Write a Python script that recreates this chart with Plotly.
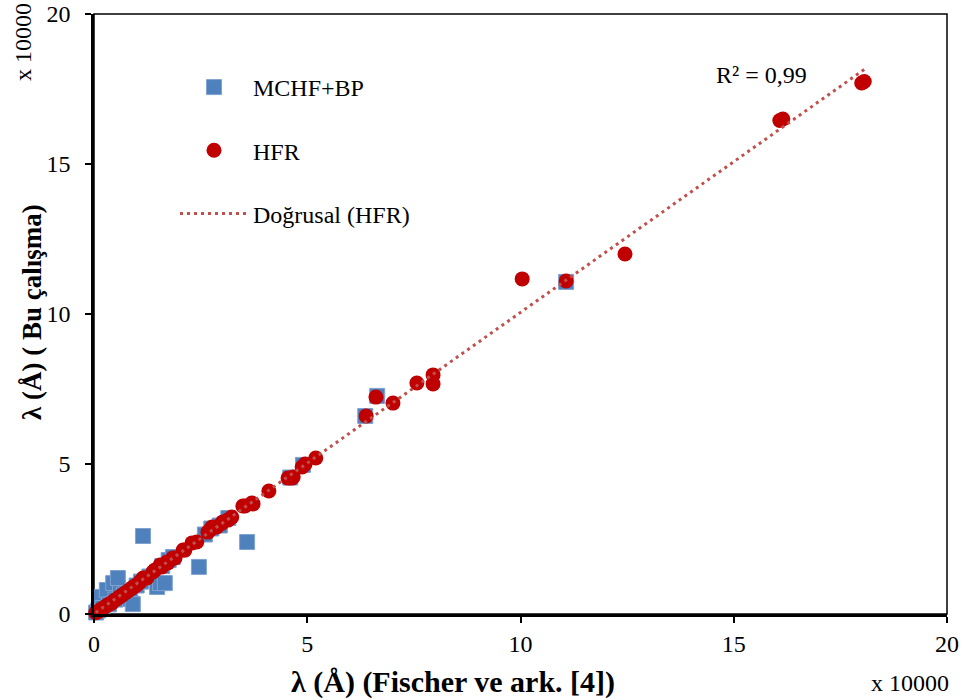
import numpy as np
import plotly.graph_objects as go

# values in units of 10000 Å
hfr_x = [0.04, 0.08, 0.13, 0.18, 0.24, 0.30, 0.36, 0.42, 0.48, 0.54, 0.60, 0.66, 0.72,
         0.78, 0.84, 0.90, 0.96, 1.02, 1.08, 1.15, 1.24, 1.38, 1.43, 1.55, 1.59, 1.71,
         1.73, 1.85, 1.90, 2.09, 2.13, 2.30, 2.41, 2.67, 2.72, 2.77, 2.88, 3.00, 3.02,
         3.14, 3.23, 3.49, 3.54, 3.70, 3.73, 4.10, 4.55, 4.64, 4.67, 4.88, 4.95, 5.20,
         6.38, 6.61, 7.01, 7.57, 7.95, 7.95, 10.04, 11.07, 12.45, 16.08, 16.15, 18.00, 18.06]
hfr_y = [0.04, 0.07, 0.12, 0.17, 0.22, 0.28, 0.33, 0.37, 0.45, 0.51, 0.57, 0.63, 0.69,
         0.75, 0.81, 0.88, 0.93, 0.99, 1.07, 1.20, 1.20, 1.40, 1.47, 1.63, 1.57, 1.73,
         1.70, 1.87, 1.87, 2.13, 2.13, 2.37, 2.40, 2.73, 2.80, 2.90, 2.90, 3.03, 3.07,
         3.13, 3.23, 3.60, 3.60, 3.70, 3.67, 4.10, 4.53, 4.53, 4.57, 4.90, 5.00, 5.20,
         6.60, 7.23, 7.03, 7.70, 7.97, 7.67, 11.17, 11.10, 12.00, 16.45, 16.50, 17.70, 17.75]

mchf_x = [0.05, 0.10, 0.16, 0.20, 0.30, 0.35, 0.45, 0.50, 0.56, 0.61, 0.70, 0.85, 0.91,
          1.00, 1.10, 1.15, 1.30, 1.48, 1.55, 1.66, 1.60, 1.75, 1.85, 2.46, 2.60, 2.75,
          2.95, 3.15, 3.59, 4.60, 4.90, 6.36, 6.64, 11.07]
mchf_y = [0.05, 0.12, 0.57, 0.20, 0.80, 0.32, 1.03, 0.48, 1.20, 0.70, 0.65, 0.50, 0.33,
          0.95, 1.08, 2.60, 1.25, 0.90, 1.03, 1.03, 1.60, 1.80, 1.90, 1.57, 2.65, 2.85,
          2.95, 3.20, 2.40, 4.55, 4.97, 6.60, 7.27, 11.07]

axis_ticks = [0, 5, 10, 15, 20]
series_names = ["MCHF+BP", "HFR", "Doğrusal (HFR)"]
r2_label = "R² = 0,99"
x_title = "λ (Å) (Fischer ve ark. [4])"
y_title = "λ (Å) ( Bu çalışma)"
scale_label = "x 10000"

FONT = "Liberation Serif"
FS = 24

# linear trendline fitted to HFR
slope, intercept = np.polyfit(hfr_x, hfr_y, 1)
tx = np.array([min(hfr_x), max(hfr_x)])
ty = slope * tx + intercept

fig = go.Figure()
fig.add_trace(go.Scatter(x=mchf_x, y=mchf_y, mode="markers", name=series_names[0],
                         legendgroup="a", cliponaxis=False,
                         marker=dict(symbol="square", size=15, color="#4F81BD",
                                     line=dict(width=1, color="#7FA3D0"))))
fig.add_trace(go.Scatter(x=hfr_x, y=hfr_y, mode="markers", name=series_names[1],
                         legendgroup="b", cliponaxis=False,
                         marker=dict(symbol="circle", size=15, color="#C00000",
                                     line=dict(width=0))))
fig.add_trace(go.Scatter(x=tx, y=ty, mode="lines", name=series_names[2],
                         legendgroup="c", cliponaxis=False,
                         line=dict(color="#C0504D", width=3, dash="3px,4px")))

axis_common = dict(range=[0, 20], tickvals=axis_ticks, ticks="outside", ticklen=6,
                   tickwidth=2, tickcolor="black", showline=True, linecolor="black",
                   linewidth=2.5, showgrid=False, zeroline=False, automargin=False,
                   tickfont=dict(family=FONT, size=FS, color="black"))


def px_to_paper_x(px):
    return (px - 94) / 853


def px_to_paper_y(py):
    return (614 - py) / 600


fig.update_layout(
    width=968, height=700,
    margin=dict(l=94, r=21, t=14, b=86, autoexpand=False),
    paper_bgcolor="white", plot_bgcolor="white",
    xaxis=dict(**axis_common, ticklabelstandoff=0),
    yaxis=dict(**axis_common, ticklabelstandoff=10),
    showlegend=True,
    legend=dict(x=px_to_paper_x(175), y=px_to_paper_y(65), xanchor="left", yanchor="top",
                bgcolor="rgba(0,0,0,0)", tracegroupgap=29, itemwidth=68,
                font=dict(family=FONT, size=FS, color="black")),
    shapes=[dict(type="rect", xref="paper", yref="paper", x0=0, y0=0, x1=1, y1=1,
                 line=dict(color="black", width=1.5), layer="below")],
    annotations=[
        dict(text=r2_label, x=(761 - 94) / 42.65, y=(614 - 75) / 30.0, xref="x", yref="y",
             xanchor="center", yanchor="middle",
             showarrow=False, font=dict(family=FONT, size=FS, color="black")),
        dict(text="<b>" + x_title + "</b>", xref="paper", yref="paper",
             x=px_to_paper_x(453), y=px_to_paper_y(682), xanchor="center", yanchor="middle",
             showarrow=False, font=dict(family=FONT, size=30, color="black")),
        dict(text="<b>" + y_title + "</b>", xref="paper", yref="paper",
             x=px_to_paper_x(32), y=px_to_paper_y(312), xanchor="center", yanchor="middle",
             showarrow=False, textangle=-90,
             font=dict(family=FONT, size=27, color="black")),
        dict(text=scale_label, xref="paper", yref="paper",
             x=px_to_paper_x(910), y=px_to_paper_y(683), xanchor="center", yanchor="middle",
             showarrow=False, font=dict(family=FONT, size=FS, color="black")),
        dict(text=scale_label, xref="paper", yref="paper",
             x=px_to_paper_x(23), y=px_to_paper_y(42), xanchor="center", yanchor="middle",
             showarrow=False, textangle=-90,
             font=dict(family=FONT, size=FS, color="black")),
    ],
)

fig.write_html("out.html", config={"displayModeBar": False},
               post_script="document.body.style.margin='0';")
